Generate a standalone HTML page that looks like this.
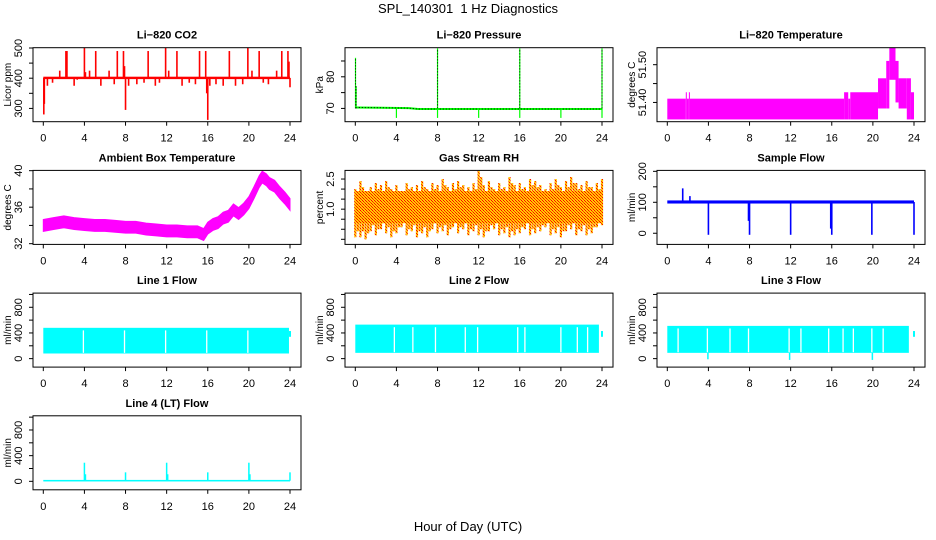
<!DOCTYPE html>
<html><head><meta charset="utf-8">
<style>
html,body{margin:0;padding:0;background:#fff;}
svg{display:block;font-family:"Liberation Sans",Arial,sans-serif;}
.t{font-size:11px;font-weight:bold;text-anchor:middle;}
.tk{font-size:11px;fill:#000;}
</style></head>
<body>
<svg id="c" width="936" height="540" viewBox="0 0 936 540" xmlns="http://www.w3.org/2000/svg">
<defs>
<pattern id="rhpat" width="3" height="3" patternUnits="userSpaceOnUse">
<rect width="3" height="3" fill="#ffcc00"/><rect width="1" height="1" fill="#ff0000"/><rect x="1" y="1" width="1" height="1" fill="#ff3300"/><rect x="2" y="2" width="1" height="1" fill="#ff0000"/>
</pattern>
</defs>
<text x="468" y="13" text-anchor="middle" font-size="13">SPL_140301&#160; 1 Hz Diagnostics</text>
<text x="468" y="531" text-anchor="middle" font-size="13">Hour of Day (UTC)</text>
</svg>
<script>
// ---- data ----
const xTicks=[0,4,8,12,16,20,24];
const co2SpikeHours=[0.05,0.1,1.6,2.2,2.3,0.4,0.9,3.0,3.3,4.0,4.1,4.5,5.1,5.6,6.4,6.9,7.2,7.8,7.9,8.0,8.3,9.1,9.8,10.2,10.9,11.3,11.9,12.2,13.0,13.5,14.2,14.8,15.2,15.8,15.9,16.0,16.2,16.8,17.5,18.1,18.7,19.4,19.9,20.3,21.0,21.4,21.9,22.7,23.2,23.8,23.9,24.0];
const co2SpikeValues=[280,315,425,490,490,375,385,375,395,500,420,425,490,375,425,380,490,490,440,295,375,380,385,490,375,385,500,425,490,375,385,380,490,490,350,262,375,380,375,490,375,380,500,425,490,385,380,425,490,490,455,370];
const co2Base=[397,405];
const presHours=[0.05,5.2,6.1,24];
const presValues=[70.3,70.1,69.8,69.8];
const presSpikeHours=[0.02,0.08,8,16,24];
const presSpikeValues=[86,77,89,89,89];
const presDipHours=[4,8,12,16,20,24];
const presDipValues=[67,67,67,67,67,67];
const ltFrom=[0,1.8,1.9,2.1,2.2,17.2,17.6,17.8,20.5,21.3,21.6,22.2,22.5,23.3,23.7];
const ltTo=[1.8,1.9,2.1,2.2,17.2,17.6,17.8,20.5,21.3,21.6,22.2,22.5,23.3,23.7,24];
const ltLo=[51.355,51.355,51.355,51.355,51.355,51.355,51.355,51.355,51.384,51.384,51.46,51.40,51.384,51.355,51.355];
const ltHi=[51.41,51.427,51.41,51.427,51.41,51.427,51.41,51.427,51.464,51.51,51.545,51.51,51.464,51.464,51.427];
const ambHours=[0,1,2,3,4,5,6,7,8,9,10,11,12,13,14,15,15.6,16,16.5,17,17.5,18,18.5,19,19.5,20,20.5,21,21.3,21.7,22,22.5,23,23.5,24];
const ambCenter=[34.0,34.2,34.4,34.2,34.1,34.0,34.0,33.9,33.8,33.8,33.6,33.5,33.4,33.4,33.3,33.3,33.0,33.7,34.1,34.3,34.8,35.0,35.7,35.3,35.8,36.5,37.6,38.8,39.3,39.0,38.6,38.3,37.6,37.0,36.3];
const ambHalfWidth=0.65;
const rhHours=[0,0.5,1,1.5,2,2.5,3,3.5,4,4.5,5,5.5,6,6.5,7,7.5,8,8.5,9,9.5,10,10.5,11,11.5,12,12.5,13,13.5,14,14.5,15,15.5,16,16.5,17,17.5,18,18.5,19,19.5,20,20.5,21,21.5,22,22.5,23,23.5,24];
const rhMax=[2.0,2.4,1.9,2.1,2.3,2.2,2.4,2.0,2.2,1.9,2.3,2.1,2.2,2.4,2.0,2.3,2.2,2.5,2.1,2.3,2.4,2.2,2.1,2.3,2.9,2.2,2.4,2.0,2.3,2.1,2.6,2.2,2.3,2.1,2.5,2.4,2.2,2.0,2.3,2.5,2.1,2.4,2.6,2.3,2.2,2.4,2.1,2.3,2.5];
const rhMin=[-0.4,-0.4,-0.5,-0.1,-0.3,0.0,-0.2,-0.4,-0.2,0.1,-0.3,-0.1,-0.4,-0.2,-0.4,0.0,-0.2,-0.1,-0.3,0.1,-0.2,0.0,-0.3,-0.1,-0.3,-0.4,-0.1,0.0,-0.3,-0.2,-0.4,-0.3,-0.2,0.0,-0.3,-0.2,-0.1,0.1,-0.3,-0.2,-0.4,-0.1,0.0,-0.3,-0.1,-0.3,-0.2,0.1,0.2];
const rhCore=[0.3,1.9];
const sfBase=[96,106];
const sfSpikeHours=[1.5,2.2,4.0,7.9,8.0,12.0,15.9,16.0,19.9,24.0];
const sfSpikeValues=[145,120,-5,40,-5,-5,15,-5,-5,-5];
const l1Band=[80,480]; const l1End=23.9;
const l1Gaps=[3.9,7.9,11.9,15.9,19.9];
const l2Band=[90,530]; const l2End=23.7;
const l2Gaps=[3.8,5.6,7.8,10.7,11.9,15.8,16.5,20.0,21.6,22.6];
const l3Band=[90,510]; const l3End=23.5;
const l3Gaps=[1.05,3.9,6.1,7.9,11.85,13.0,15.7,17.1,18.1,19.9,21.0];
const l3DipHours=[3.95,11.9,19.95];
const l3DipValues=[-10,-20,-20];
const l4Base=[-2,22];
const l4SpikeHours=[4,4.1,8,12,12.1,16,20,20.1,24];
const l4SpikeValues=[290,110,140,290,110,140,290,110,140];

// ---- helpers ----
const NS='http://www.w3.org/2000/svg';
const svg=document.getElementById('c');
function el(tag,attrs,parent){const e=document.createElementNS(NS,tag);for(const k in attrs)e.setAttribute(k,attrs[k]);(parent||svg).appendChild(e);return e;}
function panel(c,r,name,title,ylab,ylim,yticks,ylabels){
  const L=33+312*c,R=301+312*c,T=47.7+122.7*r,B=T+74;
  const g=el('g',{});
  
  
  const sx=h=>L+10.3+h*(246.7/24);
  const sy=v=>B-(v-ylim[0])/(ylim[1]-ylim[0])*(B-T);
  const plot=el('g',{},g);
  
  
  const box=el('rect',{x:L,y:T,width:R-L,height:B-T,fill:'none',stroke:'#000','stroke-width':1},g);
  
  
  const tt=el('text',{x:(L+R)/2,y:T-9,class:'t'},g);tt.textContent=title;
  
  
  const xa=el('g',{},g);
  
  
  xTicks.forEach(h=>{el('line',{x1:sx(h),x2:sx(h),y1:B,y2:B+4,stroke:'#000'},xa);
    const t=el('text',{x:sx(h),y:B+20,class:'tk','text-anchor':'middle'},xa);t.textContent=h;});
  const ya=el('g',{},g);
  
  
  yticks.forEach(v=>{el('line',{x1:L-4,x2:L,y1:sy(v),y2:sy(v),stroke:'#000'},ya);});
  ylabels.forEach(v=>{const t=el('text',{x:L-11,y:sy(v),class:'tk','text-anchor':'middle',transform:`rotate(-90 ${L-11} ${sy(v)})`},ya);t.textContent=v;});
  const yl=el('text',{x:L-22,y:(T+B)/2,'font-size':'10','text-anchor':'middle',transform:`rotate(-90 ${L-22} ${(T+B)/2})`},g);yl.textContent=ylab;
  
  
  return {plot,sx,sy,L,R,T,B};
}
function vline(p,h,v1,v2,color,w){return el('line',{x1:p.sx(h),x2:p.sx(h),y1:p.sy(v1),y2:p.sy(v2),stroke:color,'stroke-width':w||1.2},p.plot);}
function band(p,h1,h2,lo,hi,fill){return el('rect',{x:p.sx(h1),y:p.sy(hi),width:p.sx(h2)-p.sx(h1),height:p.sy(lo)-p.sy(hi),fill:fill},p.plot);}

// CO2
let p=panel(0,0,'co2','Li\u2212820 CO2','Licor ppm',[256,501],[300,350,400,450,500],[300,400,500]);
band(p,0,24,co2Base[0],co2Base[1],'#ff0000');
co2SpikeHours.forEach((h,i)=>vline(p,h,401,co2SpikeValues[i],'#ff0000',1.6));
// Pressure
p=panel(1,0,'pressure','Li\u2212820 Pressure','kPa',[65.8,89.2],[70,75,80,85],[70,80]);
let pts=presHours.map((h,i)=>p.sx(h)+','+p.sy(presValues[i])).join(' ');
el('polyline',{points:pts,fill:'none',stroke:'#00ff00','stroke-width':2},p.plot);
el('polyline',{points:pts,fill:'none',stroke:'#000','stroke-width':1,'stroke-dasharray':'1 2'},p.plot);
presSpikeHours.forEach((h,i)=>{vline(p,h,70,presSpikeValues[i],'#00ff00',1.2);vline(p,h,70,presSpikeValues[i],'#000',1).setAttribute('stroke-dasharray','1 2');});
presDipHours.forEach((h,i)=>vline(p,h,70,presDipValues[i],'#00ff00',1.2));
// Li-820 Temperature
p=panel(2,0,'li820-temperature','Li\u2212820 Temperature','degrees C',[51.349,51.545],[51.40,51.45,51.50],['51.40','','51.50']);
ltFrom.forEach((h,i)=>band(p,h,ltTo[i],ltLo[i],ltHi[i],'#ff00ff'));
// Ambient
p=panel(0,1,'ambient-temperature','Ambient Box Temperature','degrees C',[31.92,40.03],[32,34,36,38,40],[32,36,40]);
let up=ambHours.map((h,i)=>p.sx(h)+','+p.sy(ambCenter[i]+ambHalfWidth));
let dn=ambHours.map((h,i)=>p.sx(h)+','+p.sy(ambCenter[i]-ambHalfWidth)).reverse();
el('polygon',{points:up.concat(dn).join(' '),fill:'#ff00ff',stroke:'#ff00ff','stroke-width':1},p.plot);
// RH
p=panel(1,1,'gas-stream-rh','Gas Stream RH','percent',[-0.754,2.93],[-0.5,0,0.5,1,1.5,2,2.5],['\u22120.5','1.0','2.5']);
band(p,0,24,rhCore[0],rhCore[1],'url(#rhpat)');
rhHours.forEach((h,i)=>{vline(p,h,rhMin[i],rhMax[i],'url(#rhpat)',2.2);
  if(h<24) vline(p,h+0.25,rhMin[i]+0.3,rhMax[i]-0.3,'url(#rhpat)',2.2);});
// Sample flow
p=panel(2,1,'sample-flow','Sample Flow','ml/min',[-36,203],[0,50,100,150,200],[0,100,200]);
band(p,0,24,sfBase[0],sfBase[1],'#0000ff');
sfSpikeHours.forEach((h,i)=>vline(p,h,101,sfSpikeValues[i],'#0000ff',1.6));
// Line flows
const flowTicks=[0,200,400,600,800,1000], flowLabels=[0,400,800], flowLim=[-132,1021];
function flowPanel(c,r,name,title,bnd,end,gaps){
  const q=panel(c,r,name,title,'ml/min',flowLim,flowTicks,flowLabels);
  band(q,0,end,bnd[0],bnd[1],'#00ffff');
  gaps.forEach(h=>vline(q,h,bnd[0]+10,bnd[1]-40,'#ffffff',1.3));
  vline(q,24,340,430,'#00ffff',2);
  return q;
}
flowPanel(0,2,'line1-flow','Line 1 Flow',l1Band,l1End,l1Gaps);
flowPanel(1,2,'line2-flow','Line 2 Flow',l2Band,l2End,l2Gaps);
p=flowPanel(2,2,'line3-flow','Line 3 Flow',l3Band,l3End,l3Gaps);
l3DipHours.forEach((h,i)=>vline(p,h,l3Band[0],l3DipValues[i],'#00ffff',1.5));
p=panel(0,3,'line4-flow','Line 4 (LT) Flow','ml/min',flowLim,flowTicks,flowLabels);
band(p,0,24,l4Base[0],l4Base[1],'#00ffff');
l4SpikeHours.forEach((h,i)=>vline(p,h,10,l4SpikeValues[i],'#00ffff',1.5));
</script>
</body></html>
